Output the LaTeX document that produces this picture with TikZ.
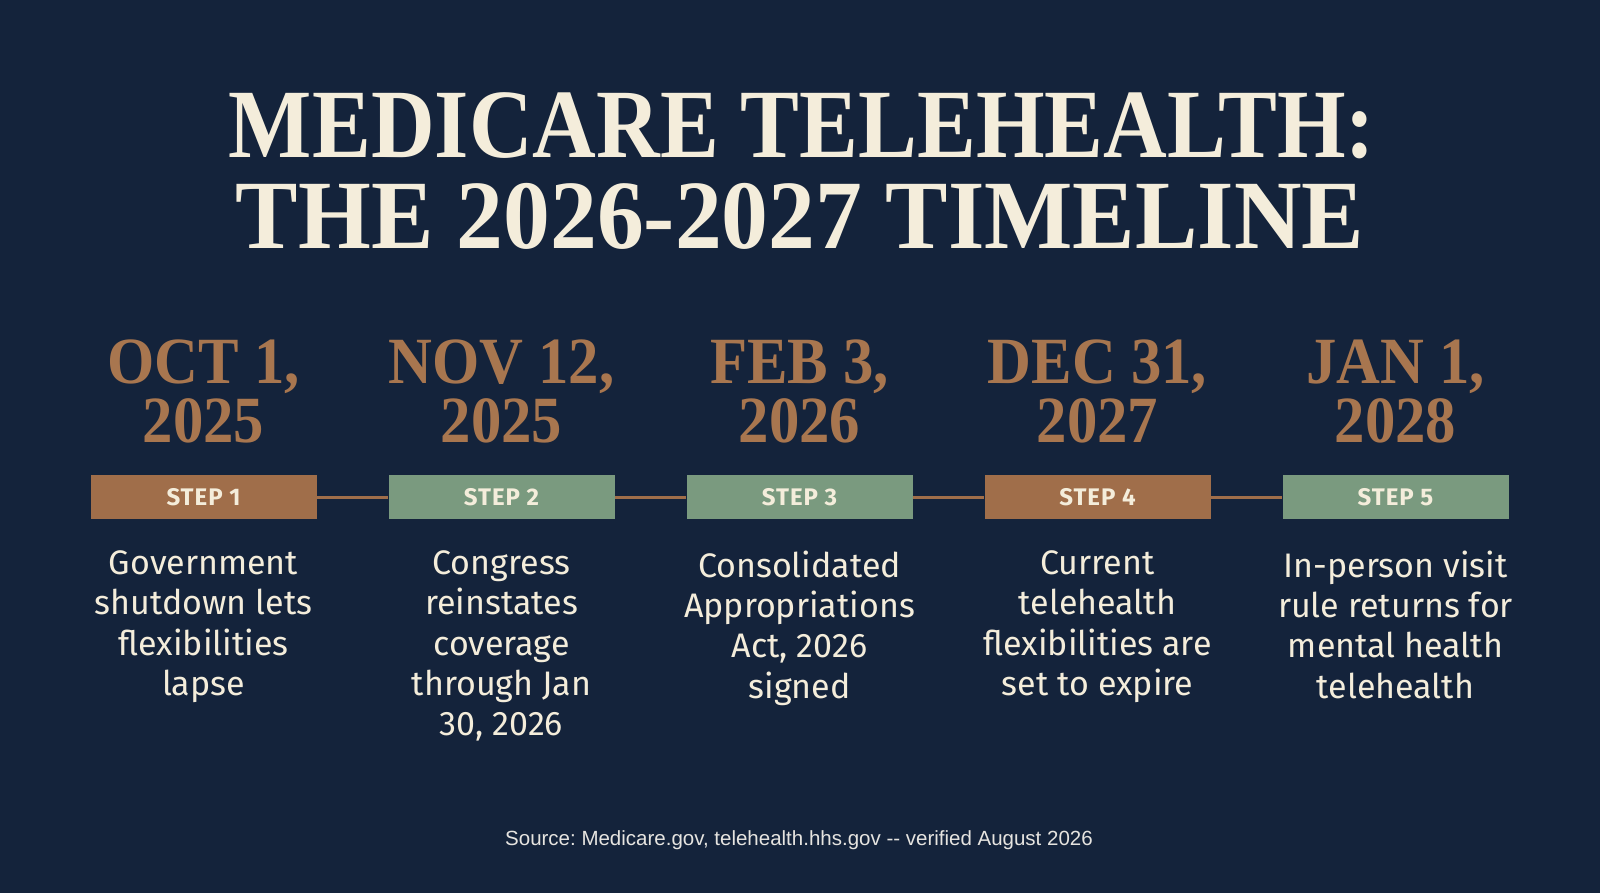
\documentclass[tikz,border=0pt]{standalone}
\usepackage{fontspec}
\usepackage{tikz}
\setmainfont{Fira Sans}
\newfontfamily\titleserif{Liberation Serif Bold}[FakeStretch=0.9]
\newfontfamily\titleseriftwo{Liberation Serif Bold}[FakeStretch=0.955]
\newfontfamily\dateserif{Liberation Serif Bold}[FakeStretch=0.92]
\newfontfamily\stepsans{Fira Sans}[LetterSpace=4]
\newfontfamily\notesans{Liberation Sans}
\frenchspacing

\definecolor{navy}{HTML}{14233B}
\definecolor{cream}{HTML}{F4EDDB}
\definecolor{datebrown}{HTML}{A8764F}
\definecolor{boxbrown}{HTML}{A06E4A}
\definecolor{boxgreen}{HTML}{7A9A7F}
\definecolor{notegray}{HTML}{E6E4E0}

\tikzset{
  titletext/.style={text=cream, anchor=base, inner sep=0pt, font=\titleserif\fontsize{98}{98}\selectfont},
  datetext/.style={text=datebrown, anchor=north, inner sep=0pt, align=center, font=\dateserif\fontsize{66}{59}\selectfont},
  stepbox/.style={minimum width=226pt, minimum height=44pt, inner sep=0pt, text=cream, font=\stepsans\fontsize{24}{24}\selectfont\bfseries},
  desctext/.style={text=cream, anchor=north, inner sep=0pt, align=center, font=\fontsize{34}{40.3}\selectfont, execute at begin node=\strut},
  connector/.style={draw=boxbrown, line width=3pt},
}

\begin{document}
\begin{tikzpicture}[x=1pt, y=-1pt]
	\fill[navy] (0,0) rectangle (1600,893);
	\useasboundingbox (0,0) rectangle (1600,893);
	
	% title
	\node[titletext] (title1) at (802,158) {MEDICARE TELEHEALTH:};
	\node[titletext, font=\titleseriftwo\fontsize{98}{98}\selectfont] (title2) at (800,249) {THE 2026-2027 TIMELINE};
	
	% dates, steps and notes
	\foreach \i/\dd/\col/\txt in {
			1/{OCT 1,\\2025}/boxbrown/{Government\\shutdown lets\\flexibilities\\lapse},
			2/{NOV 12,\\2025}/boxgreen/{Congress\\reinstates\\coverage\\through Jan\\30, 2026},
			3/{FEB 3,\\2026}/boxgreen/{Consolidated\\Appropriations\\Act, 2026\\signed},
			4/{DEC 31,\\2027}/boxbrown/{Current\\telehealth\\flexibilities are\\set to expire},
			5/{JAN 1,\\2028}/boxgreen/{In-person visit\\rule returns for\\mental health\\telehealth}} {
		\node[datetext] (date\i) at ({203.5+298*(\i-1)},340) {\dd};
		\node[stepbox, fill=\col] (step\i) at ({203.5+298*(\i-1)},497) {STEP \i};
		\node[desctext] (note\i) at ({203.5+298*(\i-1)},550.5) {\txt};
	}
	
	% connectors between the steps
	\foreach \i/\j in {1/2, 2/3, 3/4, 4/5}
		\draw[connector] (step\i.east) -- (step\j.west);
	
	\node[text=notegray, anchor=base, inner sep=0pt, font=\notesans\fontsize{20.5}{20.5}\selectfont] (source) at (799,845)
		{Source: Medicare.gov, telehealth.hhs.gov -{}- verified August 2026};
\end{tikzpicture}
\end{document}
